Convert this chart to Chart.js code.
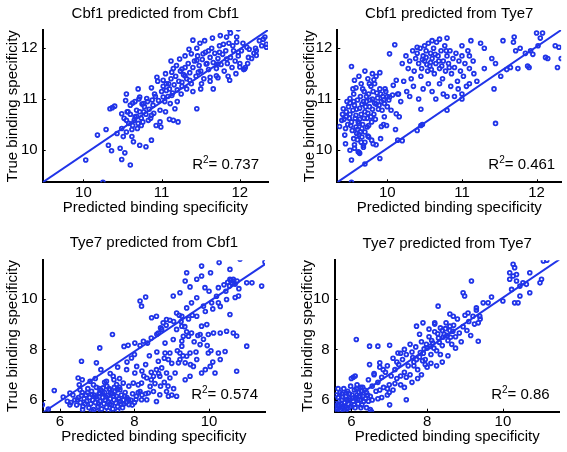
<!DOCTYPE html>
<html><head><meta charset="utf-8">
<script src="https://cdn.jsdelivr.net/npm/chart.js@4.4.1/dist/chart.umd.min.js"></script>
<style>
body{margin:0;background:#fff;width:567px;height:452px;position:relative;overflow:hidden}
.p{position:absolute}
</style></head><body>
<div class="p" style="left:0;top:0"><canvas id="c1" width="283" height="226"></canvas></div>
<div class="p" style="left:283px;top:0"><canvas id="c2" width="284" height="226"></canvas></div>
<div class="p" style="left:0;top:226px"><canvas id="c3" width="283" height="226"></canvas></div>
<div class="p" style="left:283px;top:226px"><canvas id="c4" width="284" height="226"></canvas></div>
<script>
// ---- titles / labels ----
const panelTitles = ["Cbf1 predicted from Cbf1","Cbf1 predicted from Tye7","Tye7 predicted from Cbf1","Tye7 predicted from Tye7"];
const xLabel = "Predicted binding specificity";
const yLabel = "True binding specificity";
const r2Values = ["0.737","0.461","0.574","0.86"];
const ticksTop = [10,11,12];
const ticksBottom = [6,8,10];

// ---- axis ranges ----
const xRange1 = [9.48,12.36], yRange1 = [9.36,12.36];
const xRange2 = [9.33,12.33], yRange2 = [9.36,12.36];
const xRange3 = [5.54,11.50], yRange3 = [5.54,11.52];
const xRange4 = [5.56,11.50], yRange4 = [5.54,11.52];

// ---- fit line endpoints ----
const fit1 = [[9.48,9.36],[12.36,12.36]];
const fit2 = [[9.33,9.36],[12.33,12.36]];
const fit3 = [[5.54,5.50],[11.59,11.45]];
const fit4 = [[5.56,5.55],[11.50,11.56]];

// ---- scatter data [predicted, true] ----
const cbf1FromCbf1 = [
[10.03,9.80],[10.18,10.29],[10.29,10.40],[10.34,10.81],[10.37,10.83],[10.40,10.86],[10.32,10.09],[10.36,9.98],
[10.47,10.03],[10.49,9.81],[10.53,9.94],[10.60,9.70],[10.43,10.32],[10.49,10.42],[10.55,10.35],[10.51,10.26],
[10.62,10.26],[10.55,10.58],[10.49,10.71],[10.57,10.75],[10.54,10.97],[10.55,11.10],[10.63,10.92],[10.68,10.78],
[10.66,10.65],[10.64,10.16],[10.72,10.09],[10.80,10.06],[10.87,10.19],[10.70,11.20],[10.72,11.04],[10.77,10.91],
[10.81,11.01],[10.77,10.75],[10.83,10.58],[10.74,10.48],[10.87,10.68],[10.89,10.88],[10.94,11.43],[10.87,11.22],
[10.91,11.10],[10.96,10.97],[11.02,11.04],[10.98,10.78],[10.93,10.48],[10.99,10.45],[11.02,11.37],[11.09,11.30],
[11.06,11.17],[11.13,11.07],[11.11,10.91],[11.17,10.81],[11.15,10.58],[11.21,10.55],[11.13,11.53],[11.19,11.66],
[11.23,11.79],[11.26,11.59],[11.30,11.46],[11.26,11.33],[11.32,11.20],[11.36,11.37],[11.38,11.89],[11.40,12.16],
[11.45,11.76],[11.47,11.53],[11.49,12.10],[11.53,11.89],[11.51,11.30],[11.45,10.81],[11.57,11.69],[11.62,11.43],
[11.60,11.95],[11.66,11.20],[11.72,11.69],[11.74,11.92],[11.70,11.46],[11.79,12.08],[11.83,12.22],[11.87,12.37],
[11.91,12.05],[11.96,12.22],[11.98,11.92],[11.83,11.79],[11.87,11.37],[12.00,11.63],[12.06,11.59],[12.09,12.02],
[12.11,11.82],[12.21,11.95],[12.21,11.86],[12.32,12.22],[12.34,12.08],[12.34,12.02],[11.98,12.38],[10.25,9.36],
[10.52,10.62],[10.58,10.52],[10.60,10.70],[10.63,10.48],[10.65,10.58],[10.68,10.66],[10.70,10.52],[10.72,10.75],
[10.74,10.62],[10.76,10.55],[10.78,10.85],[10.80,10.70],[10.82,10.95],[10.84,10.80],[10.86,10.62],[10.88,10.98],
[10.90,10.72],[10.92,11.05],[10.60,10.88],[10.56,10.75],[10.66,10.95],[10.71,11.00],[10.75,10.90],[10.62,10.40],
[10.69,10.42],[11.00,11.15],[11.02,11.25],[11.04,10.95],[11.06,11.30],[11.08,11.05],[11.10,11.20],[11.12,11.40],
[11.14,11.12],[11.16,11.28],[11.18,11.45],[11.20,11.18],[11.22,11.35],[11.24,11.55],[11.26,11.25],[11.28,11.48],
[11.30,11.62],[11.32,11.40],[11.34,11.70],[11.36,11.52],[11.38,11.30],[11.40,11.62],[11.42,11.75],[11.44,11.45],
[11.46,11.85],[11.48,11.66],[11.50,11.55],[11.52,11.78],[11.54,11.40],[11.56,11.92],[11.58,11.70],[11.60,11.58],
[11.62,11.82],[11.64,12.00],[11.66,11.72],[11.68,11.90],[11.70,11.60],[11.72,11.80],[11.74,12.05],[11.76,11.68],
[11.78,11.88],[11.80,11.55],[11.82,11.95],[11.84,11.70],[11.86,12.10],[11.88,11.82],[11.90,11.62],[11.92,11.95],
[11.94,11.75],[11.96,12.12],[11.98,11.85],[12.00,11.70],[12.02,11.95],[12.04,12.10],[12.07,11.62],[12.05,11.58],
[12.12,11.98],[12.15,11.80],[12.20,12.00],[12.25,12.15],[12.28,12.05],[12.30,12.18],[11.10,10.60],[11.05,10.75],
[10.98,10.55],[11.20,10.95],[11.25,11.10],[11.15,11.60],[11.05,11.50],[10.95,11.35],[11.30,11.85],[11.35,11.98],
[11.45,12.00],[11.55,12.15],[11.65,12.20],[11.75,12.25],[11.88,12.30],[11.12,11.75],[11.40,11.15],[11.50,11.20],
[11.62,11.35],[11.72,11.42],[11.85,11.45],[11.95,11.50],[12.10,11.70],[12.18,11.90]
];

const cbf1FromTye7 = [
[9.36,10.46],[9.39,10.58],[9.43,10.29],[9.41,10.81],[9.45,10.65],[9.50,11.01],[9.52,11.64],[9.54,11.20],
[9.56,11.37],[9.44,10.12],[9.50,9.99],[9.52,9.80],[9.56,10.03],[9.61,9.96],[9.63,9.93],[9.68,10.09],
[9.74,10.27],[9.79,10.19],[9.81,10.12],[9.90,9.83],[9.91,10.22],[9.92,10.46],[9.99,10.48],[9.96,10.91],
[10.03,11.04],[10.08,11.27],[10.12,11.37],[10.10,12.07],[10.03,11.89],[10.14,11.10],[10.12,10.71],[10.16,10.65],
[10.11,10.40],[10.14,10.19],
[9.45,10.75],[9.48,10.85],[9.50,10.70],[9.52,10.55],[9.55,10.95],[9.57,10.62],[9.59,10.80],[9.60,10.40],
[9.62,10.30],[9.63,10.60],[9.64,11.05],[9.66,10.90],[9.67,10.50],[9.69,11.15],[9.70,10.75],[9.72,10.95],
[9.73,10.62],[9.75,11.10],[9.76,10.85],[9.78,11.25],[9.79,10.55],[9.80,11.00],[9.82,10.70],[9.83,11.30],
[9.85,10.90],[9.86,11.12],[9.88,10.80],[9.90,11.20],[9.92,10.95],[9.94,11.05],[9.96,10.65],[9.98,11.15],
[10.00,10.85],[10.02,10.98],[10.05,10.78],[10.07,11.08],[9.58,11.22],[9.62,11.45],[9.65,11.30],[9.70,11.55],
[9.74,11.40],[9.80,11.50],[9.85,11.45],[9.90,11.52],[9.60,10.20],[9.65,10.15],[9.58,10.45],[9.53,10.38],
[9.47,10.50],[9.42,10.60],[9.62,9.95],[9.56,10.10],[9.70,10.35],[9.75,10.25],[9.68,10.05],[9.85,10.10],
[9.95,10.50],[9.55,11.10],[9.50,10.92],[9.40,10.70],[9.44,10.42],
[9.46,10.95],[9.49,10.62],[9.51,10.48],[9.54,10.78],[9.56,10.88],[9.58,10.68],[9.60,10.98],[9.61,10.55],
[9.63,10.82],[9.65,10.70],[9.66,10.42],[9.68,10.95],[9.69,10.62],[9.71,10.85],[9.72,11.05],[9.74,10.72],
[9.75,10.48],[9.77,10.98],[9.78,10.65],[9.80,10.80],[9.81,11.15],[9.83,10.92],[9.84,10.60],[9.87,11.02],
[9.89,10.88],[9.91,11.10],[9.93,10.78],[9.95,10.98],[9.97,11.20],[10.00,11.05],[9.64,10.35],[9.66,10.25],
[9.59,10.32],[9.62,10.52],[9.55,10.22],[9.70,10.15],[9.73,10.45],[9.67,11.20],[9.76,11.30],[9.82,11.38],
[10.25,11.85],[10.28,11.60],[10.30,11.75],[10.32,11.40],[10.34,11.95],[10.36,11.55],[10.38,11.80],[10.40,11.90],
[10.42,11.70],[10.44,12.00],[10.45,11.45],[10.46,11.60],[10.48,11.85],[10.50,11.75],[10.52,11.95],[10.54,11.55],
[10.55,12.10],[10.57,11.65],[10.58,11.90],[10.60,11.80],[10.62,12.00],[10.63,11.50],[10.65,11.70],[10.66,12.12],
[10.68,11.85],[10.70,11.60],[10.72,11.95],[10.74,11.40],[10.75,11.75],[10.77,12.05],[10.78,11.55],[10.80,11.85],
[10.82,11.70],[10.84,11.95],[10.86,11.50],[10.88,11.80],[10.90,11.62],[10.92,11.90],[10.94,11.35],[10.96,11.75],
[10.98,11.55],[11.00,11.85],[11.02,11.45],[11.04,11.70],[11.06,11.25],[11.08,11.95],[11.10,11.60],[11.12,12.15],
[11.15,11.75],[11.16,11.50],[11.00,12.05],[10.80,12.20],[10.70,12.18],[10.60,12.15],[10.50,12.05],[10.40,12.02],
[10.20,11.70],[10.22,11.35],[10.26,11.15],[10.30,11.05],[10.35,11.25],[10.42,11.00],[10.45,10.80],[10.48,11.20],
[10.55,11.30],[10.60,11.15],[10.65,11.00],[10.70,11.30],[10.75,11.10],[10.80,11.05],[10.85,11.25],[10.90,11.05],
[10.95,11.20],[11.00,11.10],[11.10,11.30],[10.15,11.10],[10.18,10.95],
[10.47,11.78],[10.53,11.68],[10.59,11.58],[10.64,11.88],[10.69,11.75],[10.73,11.65],[10.79,11.95],[10.83,11.62],
[10.52,11.82],[10.58,11.72],
[9.52,9.36],[9.70,9.72],[10.20,10.18],[10.40,10.38],[10.45,10.48],[10.47,10.50],[10.80,10.78],[11.00,11.00],
[11.20,11.35],[11.30,11.60],[11.45,10.52],[11.43,11.20],[11.52,11.45],[11.60,11.58],[11.65,11.62],[11.75,11.60],
[11.85,11.90],[11.88,11.65],[11.90,11.62],[11.92,11.95],[11.95,11.88],[12.02,12.05],[12.05,12.20],[12.08,12.30],
[12.00,12.30],[11.70,12.22],[11.69,12.12],[11.72,11.95],[11.78,12.00],[12.12,11.82],[12.15,11.80],[12.25,12.05],
[12.30,12.02],[12.28,11.62],[12.33,11.80],[11.40,11.80],[11.55,12.15],[11.30,12.00],[11.25,12.10],[11.10,11.85],
[11.45,11.70]
];

const tye7FromCbf1 = [
[5.53,5.81],[5.69,5.64],[5.85,6.38],[6.09,6.12],[6.27,5.81],[6.27,6.28],[6.47,6.01],[6.54,6.41],
[6.49,6.87],[6.58,7.53],[6.61,5.62],[6.81,6.74],[6.98,7.47],[7.07,8.06],[7.41,8.59],[7.72,8.12],
[7.83,8.16],[7.92,7.66],[8.01,8.25],[8.15,9.91],[8.19,9.71],[8.30,10.07],[8.24,8.32],[8.46,9.25],
[8.59,9.31],[8.64,8.65],[8.77,9.05],[8.73,8.79],[8.86,9.18],[9.04,10.11],[9.22,10.24],[9.36,10.70],
[9.40,11.03],[9.49,10.47],[9.67,10.77],[9.80,11.29],[9.89,10.44],[10.04,11.03],[10.27,11.43],[10.25,10.44],
[10.56,11.16],[10.83,11.56],[11.01,10.63],[11.15,10.63],[11.50,11.45],[11.41,10.50],[10.79,10.11],[10.47,9.97],
[10.56,10.77],[10.65,10.77],[10.61,10.63],
[11.01,8.13],[10.74,7.14],[10.74,8.53],[10.65,8.65],[10.47,8.72],[10.30,8.65],[10.12,8.65],[10.43,7.92],
[10.25,7.86],[9.98,7.86],[10.16,7.07],[10.03,7.33],[9.80,7.07],[10.30,7.60],[9.98,8.59],[9.94,8.98],
[9.80,8.92],[9.67,9.31],[9.76,8.59],[9.76,8.19],[9.67,7.60],[9.58,7.33],[9.49,6.94],[9.36,6.80],
[9.36,7.47],[9.22,7.60],[9.40,7.73],[9.49,7.86],[9.53,8.65],[9.45,8.52],[9.31,8.52],[9.27,8.13],
[9.27,8.92],[9.13,8.79],[9.04,8.39],[8.95,7.86],[8.91,7.60],[8.82,8.25],[8.82,7.86],[8.73,7.27],
[8.64,7.53],[8.59,7.20],[8.51,6.94],[8.68,6.94],[8.86,7.07],[8.95,6.87],[9.09,7.07],[9.18,7.47],
[9.22,7.86],[9.27,8.33],[9.13,9.44],[9.27,9.31],[9.40,9.64],[9.53,9.84],[9.67,10.04],[9.85,9.71],
[10.07,9.84],[10.25,9.84],[10.56,9.38],
[8.42,6.54],[8.33,6.87],[8.19,6.67],[8.06,7.33],[8.01,7.07],[7.97,6.67],[8.15,6.34],[8.37,6.28],
[8.51,6.34],[8.68,6.21],[8.86,6.34],[8.91,6.15],[9.13,6.15],[8.59,5.94],[8.33,6.01],[8.19,6.01],
[7.79,7.20],[7.70,6.67],[7.61,6.41],[7.52,6.61],[7.43,6.94],[7.34,6.41],[7.25,6.74],[7.16,6.48],
[7.07,6.28],
[6.50,6.10],[6.55,5.90],[6.60,6.30],[6.62,5.75],[6.65,6.05],[6.70,6.20],[6.72,5.95],[6.75,6.45],
[6.78,5.70],[6.80,6.10],[6.83,5.85],[6.85,6.35],[6.88,6.00],[6.90,5.62],[6.92,6.20],[6.95,5.90],
[6.98,6.50],[7.00,6.05],[7.02,5.75],[7.05,6.25],[7.08,5.95],[7.10,6.40],[7.12,5.65],[7.15,6.10],
[7.18,5.85],[7.20,6.30],[7.22,6.00],[7.25,5.72],[7.28,6.18],[7.30,5.92],[7.32,6.45],[7.35,6.05],
[7.38,5.80],[7.40,6.25],[7.42,5.65],[7.45,6.00],[7.48,6.35],[7.50,5.88],[7.52,6.15],[7.55,5.75],
[7.58,6.05],[7.60,6.50],[7.62,5.95],[7.65,6.20],[7.68,5.70],[7.70,6.00],[7.72,5.85],[7.75,6.30],
[7.78,5.90],[7.80,6.10],[7.85,5.82],[7.90,6.00],[7.95,6.25],[8.00,5.90],[8.05,6.15],[8.10,6.30],
[8.20,6.20],[8.30,6.25],[6.45,5.80],[6.40,6.00],[6.35,6.20],[6.30,5.90],[6.20,5.95],[6.52,6.60],
[6.60,6.80],[6.90,6.60],[7.20,6.70],[7.45,6.80],[7.60,6.85],[7.85,6.55],[8.10,6.60],[8.25,6.95],
[8.45,7.10],[8.55,6.65],[8.70,6.55],[8.80,6.70],[8.90,6.55],[9.05,6.45],[9.00,6.20],[7.00,5.55],
[7.55,5.58],[6.85,5.58],[7.30,5.58],[6.95,6.85],[7.35,7.05],[7.10,7.20],[7.55,7.30],[7.80,7.50],
[8.00,7.80],[8.15,8.15],[8.35,8.25],[8.45,8.45],[8.60,8.60],[8.70,8.85],[8.85,8.95],[8.95,9.15],
[9.05,9.10],[9.20,9.35],[9.25,9.10],[9.35,8.90],[9.45,9.20],[9.55,9.35],[9.40,8.70],[9.60,8.30],
[9.70,8.55],[9.85,8.40],[9.95,8.15],[10.05,7.95],[10.10,7.50],[9.90,7.20],[9.65,7.90],[9.50,7.40],
[9.30,7.75],[9.15,7.95],[9.00,7.45],[8.80,7.65],[8.60,7.90],[8.40,7.75],[8.30,7.40],[8.20,7.15],
[8.45,6.80],[8.65,7.05],[9.80,10.90],[10.00,10.30],[10.20,10.10],[10.40,10.55],[10.50,10.65],[10.58,10.72],
[10.62,10.60],[10.66,10.70],[10.70,10.58],[10.55,10.50],[10.45,10.30],[10.75,10.70],[10.10,9.60],[9.90,9.50],
[10.30,9.70],[10.70,10.05],[10.80,10.40],
[6.58,6.18],[6.68,5.85],[6.74,6.30],[6.86,6.22],[6.96,6.12],[7.04,5.85],[7.14,6.28],[7.24,6.12],
[7.34,5.85],[7.44,6.15],[7.54,6.42],[7.64,5.85],[7.74,6.15],[7.84,6.02],[7.94,5.80],[8.04,6.02],
[7.36,6.30],[7.46,6.50],[7.26,6.55],[7.06,6.45]
];

const tye7FromTye7 = [
[6.13,8.39],[6.48,8.13],[6.70,8.13],[7.01,8.16],[6.75,7.47],[6.48,7.40],[6.84,7.20],[7.23,7.86],
[7.45,6.01],[7.01,5.81],[6.53,5.55],[7.72,8.92],[7.89,9.05],[8.20,9.05],[8.29,9.71],[8.60,8.92],
[8.69,9.31],[8.95,10.24],[8.99,10.11],[9.17,10.70],[9.35,8.32],[9.35,9.05],[9.39,9.31],[9.48,9.84],
[9.30,9.64],[9.21,9.31],[9.08,9.44],[9.61,9.84],[9.70,10.07],[10.00,9.91],[10.18,11.03],[10.27,11.36],
[10.31,11.23],[10.36,10.70],[10.45,10.50],[10.45,10.11],[10.40,9.84],[10.31,9.84],[10.71,11.03],[10.71,10.24],
[10.98,10.63],[11.02,10.77],[11.07,11.49],[11.16,11.52],[10.62,10.57],[10.53,10.63],[10.23,10.37],[10.18,10.77],
[10.27,10.90],[10.36,10.96],
[6.30,6.50],[6.40,6.30],[6.45,6.80],[6.50,6.15],[6.55,6.55],[6.60,7.00],[6.65,6.35],[6.70,6.70],
[6.75,6.40],[6.80,6.90],[6.85,6.50],[6.90,7.10],[6.95,6.45],[7.00,6.60],[7.05,6.95],[7.10,6.40],
[7.15,7.20],[7.20,6.85],[7.25,7.40],[7.30,6.95],[7.35,7.60],[7.40,7.10],[7.45,7.80],[7.50,7.35],
[7.55,7.00],[7.60,7.90],[7.65,7.50],[7.70,8.10],[7.75,7.20],[7.80,7.70],[7.85,8.30],[7.90,7.85],
[7.95,7.40],[8.00,8.05],[8.05,8.50],[8.10,7.80],[8.15,8.25],[8.20,8.70],[8.25,7.95],[8.30,8.45],
[8.35,8.85],[8.40,8.15],[8.45,8.60],[8.50,9.05],[8.55,8.35],[8.60,8.75],[8.65,8.20],[8.70,8.95],
[8.75,8.50],[8.80,9.20],[8.85,8.65],[8.90,8.30],[8.95,8.90],[9.00,9.35],[9.05,8.75],[9.10,9.10],
[9.15,8.55],[9.25,9.00],[9.30,9.55],[9.40,9.20],[7.45,6.90],[7.60,6.70],[7.75,6.85],[7.85,7.00],
[8.00,7.30],[8.10,7.45],[8.25,7.35],[8.40,7.50],[8.55,7.75],[8.35,7.80],[7.95,7.60],[7.65,7.35],
[7.55,8.20],[7.40,8.00],[7.30,7.85],[7.80,8.60],[8.05,8.80],[8.20,9.00],[8.40,8.75],[8.60,9.40],
[8.75,8.05],[6.95,7.35],[6.75,7.30],[6.60,7.05],[7.10,7.65],[7.20,7.50],[7.30,6.60],[7.40,6.50],
[7.00,6.30],[6.80,6.10],[6.70,6.05],[6.95,6.20],[7.15,6.65],[6.55,6.00],[6.45,5.95],
[7.92,8.02],[7.98,8.20],[8.08,8.12],[8.12,8.35],[8.18,8.05],[8.28,8.62],[8.32,8.28],[8.42,8.48],
[8.48,8.82],[8.52,8.55],[8.62,8.48],[8.68,8.72],[7.62,7.68],[7.72,7.60],[7.82,7.88],[7.88,7.55],
[5.58,5.70],[5.60,5.90],[5.62,5.65],[5.65,6.10],[5.68,5.80],[5.70,6.30],[5.72,5.60],[5.75,6.00],
[5.78,5.75],[5.80,6.45],[5.82,5.90],[5.85,6.15],[5.88,5.65],[5.90,6.35],[5.92,5.85],[5.95,6.05],
[5.98,6.55],[6.00,5.75],[6.02,6.20],[6.05,5.95],[6.08,6.40],[6.10,5.70],[6.12,6.10],[6.15,6.60],
[6.18,5.85],[6.20,6.30],[6.22,6.00],[6.25,6.50],[6.28,5.80],[6.30,6.15],[6.33,5.95],[6.35,6.40],
[5.60,6.20],[5.65,6.45],[5.70,5.55],[5.85,5.58],[6.00,6.85],[6.05,6.90],[6.40,5.70],[6.50,5.62],
[6.10,6.95],[5.95,6.25],[5.75,6.25],[5.88,6.00],[6.15,6.20],[6.25,5.70],
[5.63,5.80],[5.67,5.95],[5.73,5.85],[5.77,6.12],[5.83,5.72],[5.87,6.28],[5.93,5.98],[5.97,5.70],
[6.03,6.08],[6.07,5.82],[6.13,6.45],[6.17,6.02],[6.23,6.15],[6.27,6.35],[6.37,6.05],[6.43,6.20]
];

// ---- rendering ----
const FONT = '"Liberation Sans", Arial, Helvetica, sans-serif';
const BLUE = 'rgb(32,52,232)';

const decor = {
  id: 'decor',
  afterDraw(chart, args, o) {
    const {ctx, chartArea: a, scales: {x, y}} = chart;
    ctx.save();
    ctx.strokeStyle = '#000'; ctx.lineWidth = 1;
    x.ticks.forEach(t => { const px = Math.round(x.getPixelForValue(t.value)) + 0.5;
      ctx.beginPath(); ctx.moveTo(px, a.bottom); ctx.lineTo(px, a.bottom - 3); ctx.stroke(); });
    y.ticks.forEach(t => { const py = Math.round(y.getPixelForValue(t.value)) + 0.5;
      ctx.beginPath(); ctx.moveTo(a.left, py); ctx.lineTo(a.left + 3, py); ctx.stroke(); });
    ctx.fillStyle = '#000';
    ctx.font = '15px ' + FONT;
    ctx.textAlign = 'center'; ctx.textBaseline = 'middle';
    ctx.fillText(o.title, (a.left + a.right) / 2, o.titleY);
    // R^2 label
    ctx.textBaseline = 'alphabetic'; ctx.textAlign = 'left';
    const rest = '= ' + o.r2;
    ctx.font = '15px ' + FONT; const wR = ctx.measureText('R').width, wRest = ctx.measureText(rest).width;
    ctx.font = '10px ' + FONT; const w2 = ctx.measureText('2').width;
    const xEnd = a.right - o.r2Right, base = a.bottom - 13;
    let xs = xEnd - wR - w2 - wRest;
    ctx.font = '15px ' + FONT; ctx.fillText('R', xs, base);
    ctx.font = '10px ' + FONT; ctx.fillText('2', xs + wR, base - 6);
    ctx.font = '15px ' + FONT; ctx.fillText(rest, xs + wR + w2, base);
    ctx.restore();
  }
};

function makePanel(id, pts, fit, xr, yr, ticks, cfg) {
  new Chart(document.getElementById(id), {
    type: 'scatter',
    data: { datasets: [
      { data: pts.map(p => ({x: p[0], y: p[1]})), pointStyle: 'circle', pointRadius: 1.9,
        borderWidth: 1.8, borderColor: BLUE, backgroundColor: 'rgba(0,0,0,0)', showLine: false },
      { data: fit.map(p => ({x: p[0], y: p[1]})), showLine: true, pointRadius: 0,
        borderColor: BLUE, borderWidth: 2, fill: false }
    ]},
    options: {
      responsive: false, animation: false, events: [],
      layout: { padding: { top: cfg.top, right: cfg.right, left: 0, bottom: 0 } },
      plugins: { legend: {display: false}, tooltip: {enabled: false},
        decor: { title: cfg.title, titleY: cfg.titleY, r2: cfg.r2, r2Right: cfg.r2Right } },
      scales: {
        x: { type: 'linear', min: xr[0], max: xr[1],
          afterBuildTicks: s => { s.ticks = ticks.map(v => ({value: v})); },
          afterFit: s => { s.height = cfg.xH; },
          grid: { display: false, drawTicks: false },
          border: { display: true, color: '#000', width: 2 },
          ticks: { color: '#000', font: {size: 15, family: FONT}, padding: cfg.xPad, maxRotation: 0 },
          title: { display: true, text: xLabel, color: '#000', font: {size: 15, family: FONT},
                   padding: {top: 0, bottom: cfg.xTitlePad} } },
        y: { type: 'linear', min: yr[0], max: yr[1],
          afterBuildTicks: s => { s.ticks = ticks.map(v => ({value: v})); },
          afterFit: s => { s.width = cfg.yW; },
          grid: { display: false, drawTicks: false },
          border: { display: true, color: '#000', width: 2 },
          ticks: { color: '#000', font: {size: 15, family: FONT}, padding: 5 },
          title: { display: true, text: yLabel, color: '#000', font: {size: 15, family: FONT},
                   padding: {top: cfg.yTitlePad, bottom: 0} } }
      }
    },
    plugins: [decor]
  });
}

makePanel('c1', cbf1FromCbf1, fit1, xRange1, yRange1, ticksTop,
  {title: panelTitles[0], titleY: 14, r2: r2Values[0], r2Right: 9, top: 30, right: 15, yW: 42.7, xH: 43.7, xPad: 2, xTitlePad: 8.7, yTitlePad: 4.3});
makePanel('c2', cbf1FromTye7, fit2, xRange2, yRange2, ticksTop,
  {title: panelTitles[1], titleY: 14, r2: r2Values[1], r2Right: 6, top: 30, right: 4.7, yW: 54.3, xH: 43.7, xPad: 2, xTitlePad: 8.7, yTitlePad: 17.7});
makePanel('c3', tye7FromCbf1, fit3, xRange3, yRange3, ticksBottom,
  {title: panelTitles[2], titleY: 17, r2: r2Values[2], r2Right: 7, top: 34.3, right: 18, yW: 42.7, xH: 40.3, xPad: 1, xTitlePad: 6, yTitlePad: 4.3});
makePanel('c4', tye7FromTye7, fit4, xRange4, yRange4, ticksBottom,
  {title: panelTitles[3], titleY: 18, r2: r2Values[3], r2Right: 10, top: 34.3, right: 7.3, yW: 51.7, xH: 40.3, xPad: 1, xTitlePad: 6, yTitlePad: 16});
</script>
</body></html>
